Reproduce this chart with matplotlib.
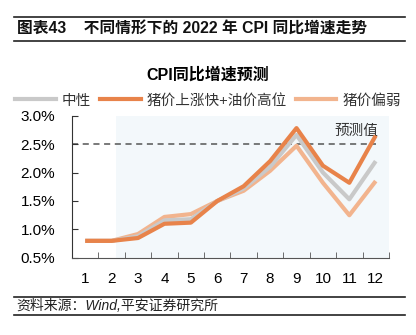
import numpy as np
import matplotlib.pyplot as plt
from matplotlib.lines import Line2D

plt.rcParams['font.family'] = ['Liberation Sans', 'Noto Sans CJK SC']
plt.rcParams['axes.unicode_minus'] = False

# CPI year-on-year forecasts for 2022 (%), by month
months = np.arange(1, 13)
month_labels = [str(m) for m in months]
neutral = [0.8, 0.8, 0.88, 1.16, 1.18, 1.5, 1.72, 2.1, 2.66, 2.0, 1.53, 2.2]
pork_up_oil_high = [0.8, 0.8, 0.85, 1.1, 1.12, 1.5, 1.76, 2.2, 2.78, 2.12, 1.82, 2.65]
pork_weak = [0.8, 0.8, 0.92, 1.22, 1.27, 1.5, 1.68, 2.03, 2.47, 1.82, 1.25, 1.85]
series_names = ['中性', '猪价上涨快+油价高位', '猪价偏弱']
forecast_level = 2.5
forecast_start = 2.15

c_gray = '#c9c9c9'
c_dark = '#e8834a'
c_light = '#f2b48e'

fig = plt.figure(figsize=(4.16, 3.35), dpi=100)
ax = fig.add_axes([0.173, 0.23, 0.762, 0.425])

# forecast period background
ax.axvspan(forecast_start, 12.5, color='#f3f8fb', zorder=0, lw=0)
ax.plot([0.5, 12], [forecast_level] * 2, ls=(0, (4, 3)), color='#555555', lw=1.1, zorder=1)
ax.text(11.25, 2.6, '预测值', fontsize=10.5, ha='center', va='bottom', color='#333333')

ax.plot(months, pork_weak, color=c_light, lw=3, solid_capstyle='butt', zorder=2)
ax.plot(months, neutral, color=c_gray, lw=3, solid_capstyle='butt', zorder=3)
ax.plot(months, pork_up_oil_high, color=c_dark, lw=3, solid_capstyle='butt', zorder=4)

ax.set_xlim(0.5, 12.5)
ax.set_ylim(0.5, 3.0)
ax.set_xticks(months)
ax.set_xticklabels(month_labels)
ax.set_xticks(np.arange(0.5, 13, 1), minor=True)
ax.tick_params(axis='x', which='major', length=0, pad=10, labelsize=11)
ax.tick_params(axis='x', which='minor', direction='in', length=4, color='#555555')
ax.set_yticks([0.5, 1.0, 1.5, 2.0, 2.5, 3.0])
ax.set_yticklabels(['0.5%', '1.0%', '1.5%', '2.0%', '2.5%', '3.0%'])
ax.tick_params(axis='y', direction='in', length=4, pad=12, labelsize=11, color='#333333')
for s in ['top', 'right']:
    ax.spines[s].set_visible(False)
ax.spines['left'].set_color('#333333')
ax.spines['bottom'].set_color('#555555')

# chart title and legend
fig.text(0.5, 0.778, 'CPI同比增速预测', ha='center', va='center', fontsize=11.5, fontweight='bold')
handles = [Line2D([], [], color=c, lw=3) for c in (c_gray, c_dark, c_light)]
fig.legend(handles, series_names, loc='center', bbox_to_anchor=(0.5, 0.70), ncol=3,
           frameon=False, fontsize=10.5, handlelength=2.8, handletextpad=0.4,
           columnspacing=0.6, labelcolor='#333333')

# report header and source
fig.add_artist(Line2D([0.034, 0.973], [0.949, 0.949], color='#222222', lw=1.2))
fig.add_artist(Line2D([0.034, 0.973], [0.877, 0.877], color='#222222', lw=1.2))
fig.text(0.04, 0.913, '图表43    不同情形下的 2022 年 CPI 同比增速走势', ha='left', va='center',
         fontsize=11.3, fontweight='bold', color='#111111')
fig.add_artist(Line2D([0.034, 0.973], [0.114, 0.114], color='#222222', lw=1.2))
fig.add_artist(Line2D([0.034, 0.973], [0.06, 0.06], color='#222222', lw=1.2))
fig.text(0.04, 0.087, '资料来源：Wind,平安证券研究所', ha='left', va='center',
         fontsize=10, style='italic', color='#222222')

fig.savefig('out.png', dpi=100)
